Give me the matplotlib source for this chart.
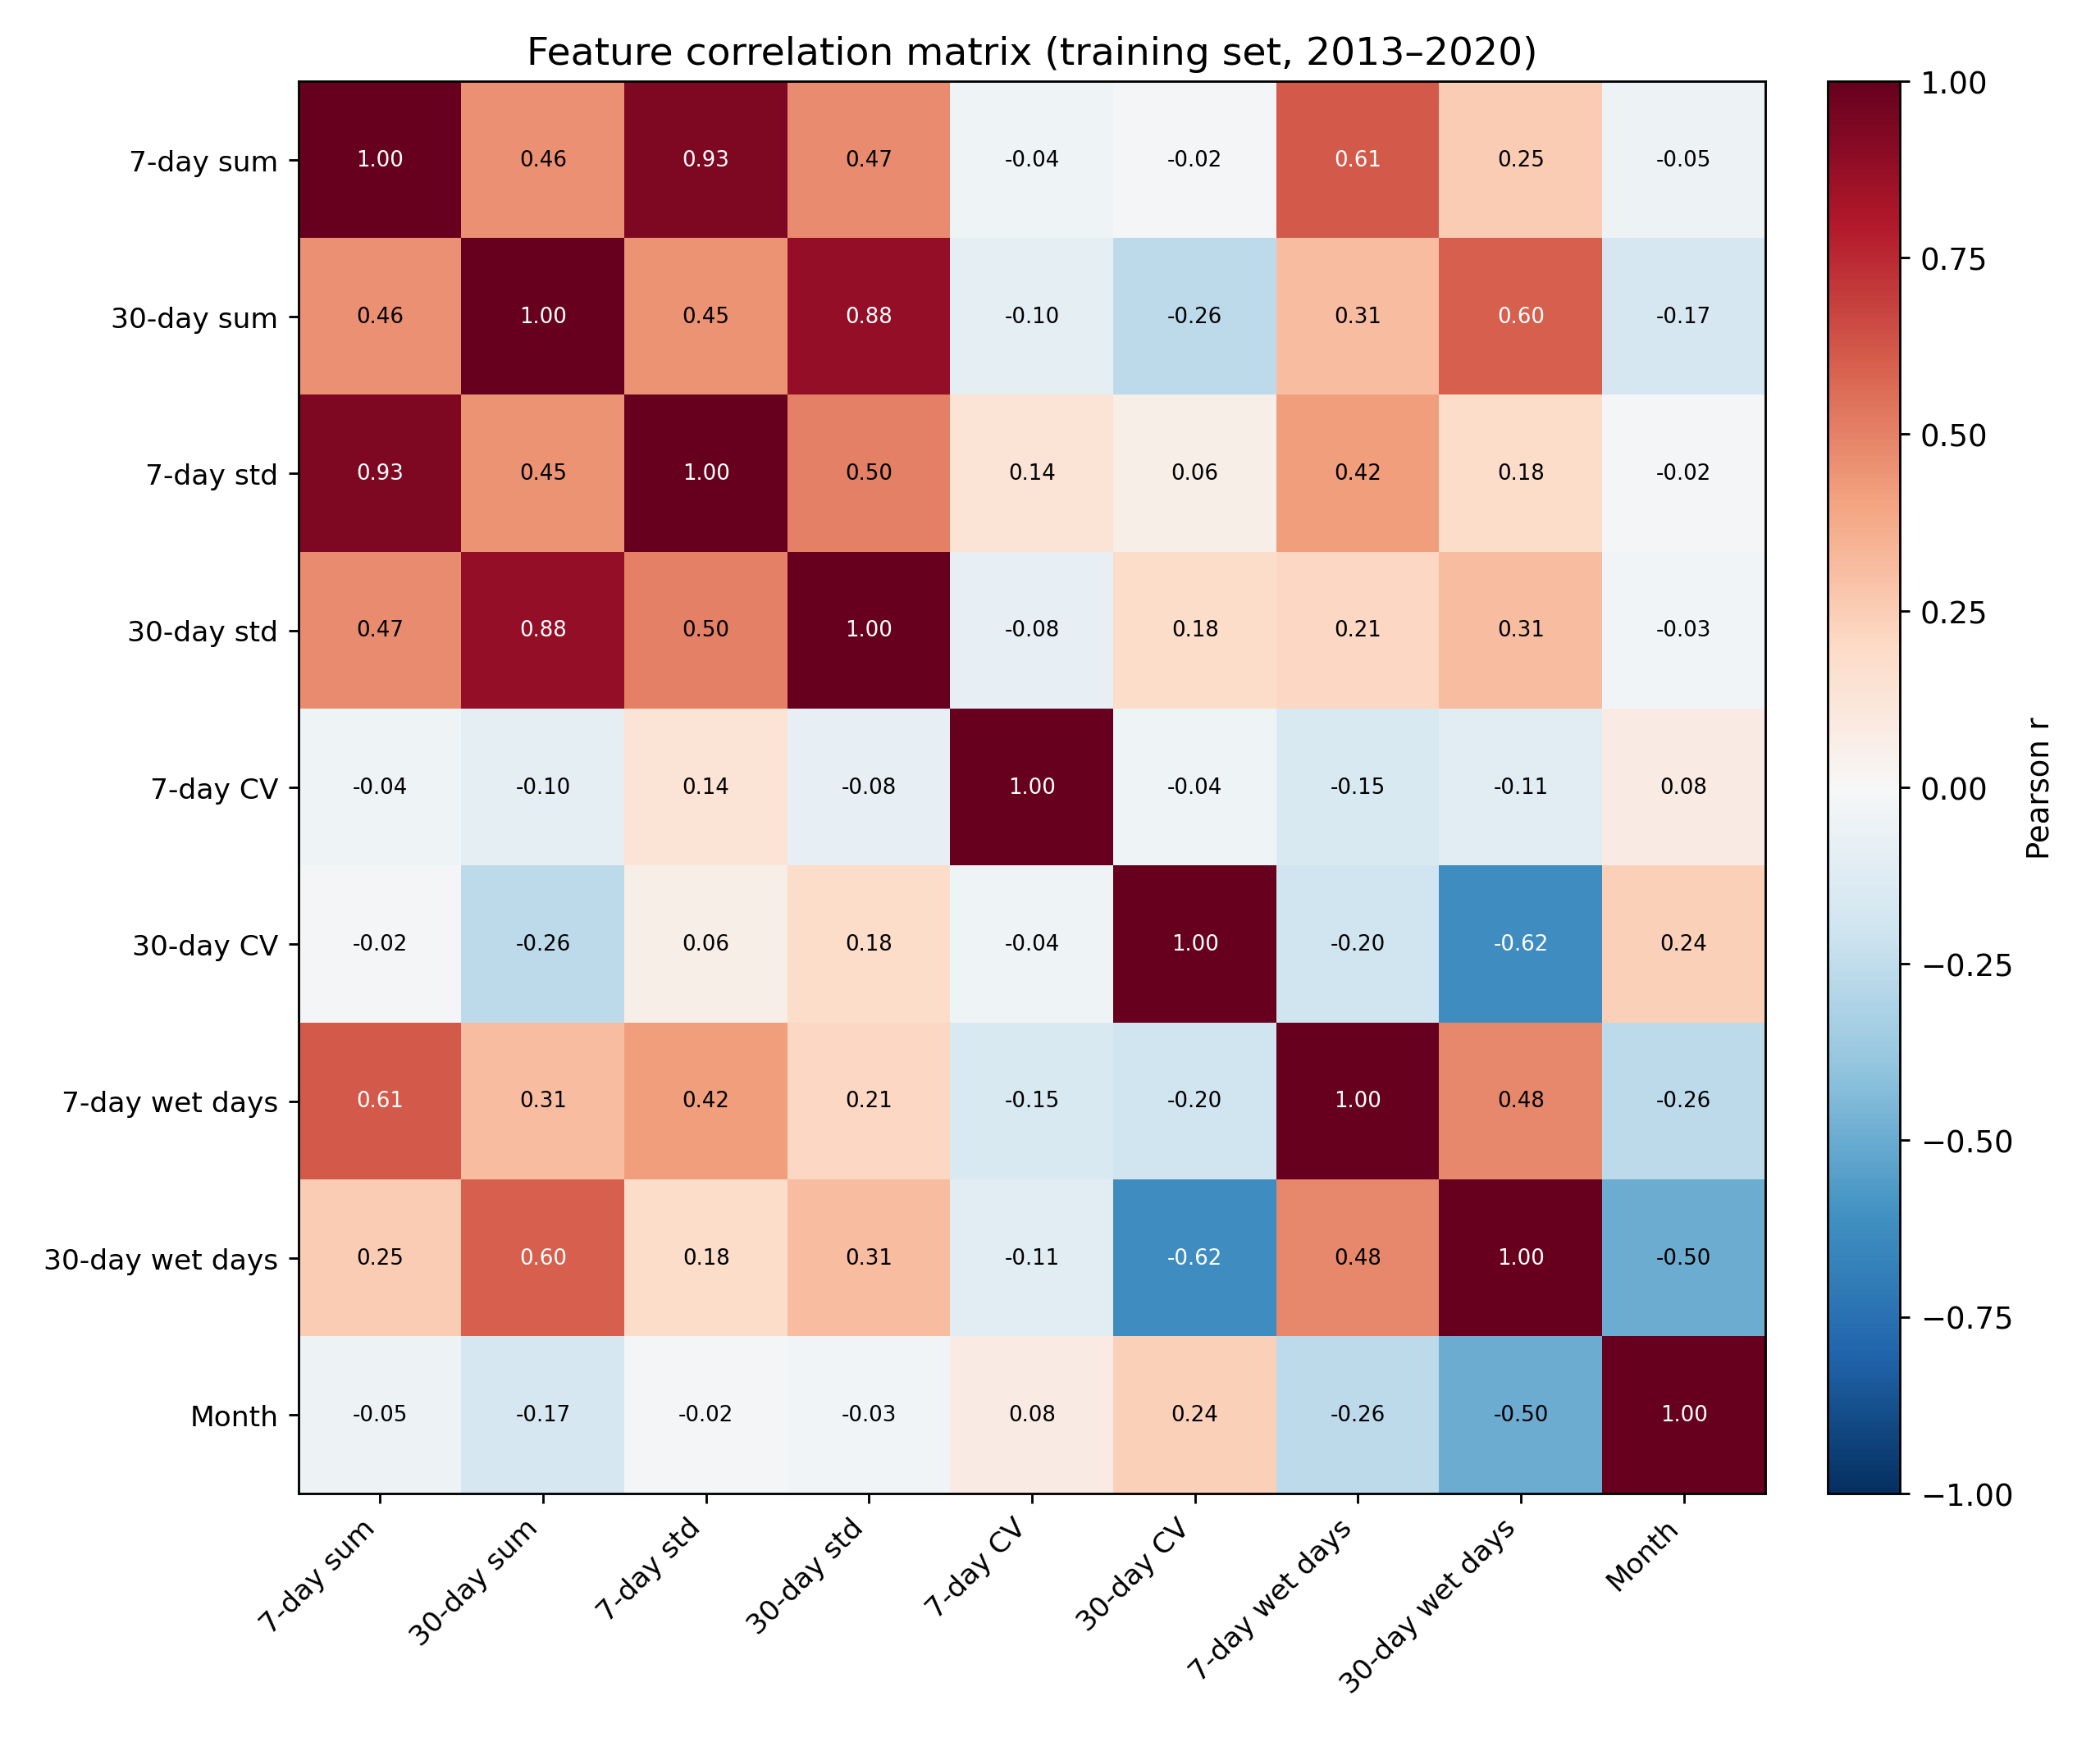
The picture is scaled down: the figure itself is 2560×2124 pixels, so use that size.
import numpy as np
import matplotlib
matplotlib.use("Agg")
import matplotlib.pyplot as plt

# feature names (same order on both axes)
features = ["7-day sum", "30-day sum", "7-day std", "30-day std", "7-day CV",
            "30-day CV", "7-day wet days", "30-day wet days", "Month"]

# Pearson r, row by row
r_7sum   = [1.00, 0.46, 0.93, 0.47, -0.04, -0.02, 0.61, 0.25, -0.05]
r_30sum  = [0.46, 1.00, 0.45, 0.88, -0.10, -0.26, 0.31, 0.60, -0.17]
r_7std   = [0.93, 0.45, 1.00, 0.50, 0.14, 0.06, 0.42, 0.18, -0.02]
r_30std  = [0.47, 0.88, 0.50, 1.00, -0.08, 0.18, 0.21, 0.31, -0.03]
r_7cv    = [-0.04, -0.10, 0.14, -0.08, 1.00, -0.04, -0.15, -0.11, 0.08]
r_30cv   = [-0.02, -0.26, 0.06, 0.18, -0.04, 1.00, -0.20, -0.62, 0.24]
r_7wet   = [0.61, 0.31, 0.42, 0.21, -0.15, -0.20, 1.00, 0.48, -0.26]
r_30wet  = [0.25, 0.60, 0.18, 0.31, -0.11, -0.62, 0.48, 1.00, -0.50]
r_month  = [-0.05, -0.17, -0.02, -0.03, 0.08, 0.24, -0.26, -0.50, 1.00]

corr = np.array([r_7sum, r_30sum, r_7std, r_30std, r_7cv,
                 r_30cv, r_7wet, r_30wet, r_month])

fig = plt.figure(figsize=(10, 8.3), dpi=256)
ax = fig.add_axes([0.1422, 0.1427, 0.6984, 0.8103])
cax = fig.add_axes([0.8703, 0.1427, 0.0344, 0.8103])

im = ax.imshow(corr, cmap="RdBu_r", vmin=-1, vmax=1, aspect="auto")
n = len(features)
ax.set_xticks(np.arange(n))
ax.set_yticks(np.arange(n))
ax.set_xticklabels(features, rotation=45, ha="right", fontsize=9.7)
ax.set_yticklabels(features, fontsize=9.7)

for i in range(n):
    for j in range(n):
        v = corr[i, j]
        ax.text(j, i, f"{v:.2f}", ha="center", va="center", fontsize=7.3,
                color="white" if abs(v) > 0.5 else "black")

ax.set_title("Feature correlation matrix (training set, 2013\u20132020)", fontsize=13.3)

cb = fig.colorbar(im, cax=cax)
cb.set_label("Pearson r", fontsize=10.4)
cb.ax.tick_params(labelsize=10.4)

fig.savefig("out.png", dpi=256)
